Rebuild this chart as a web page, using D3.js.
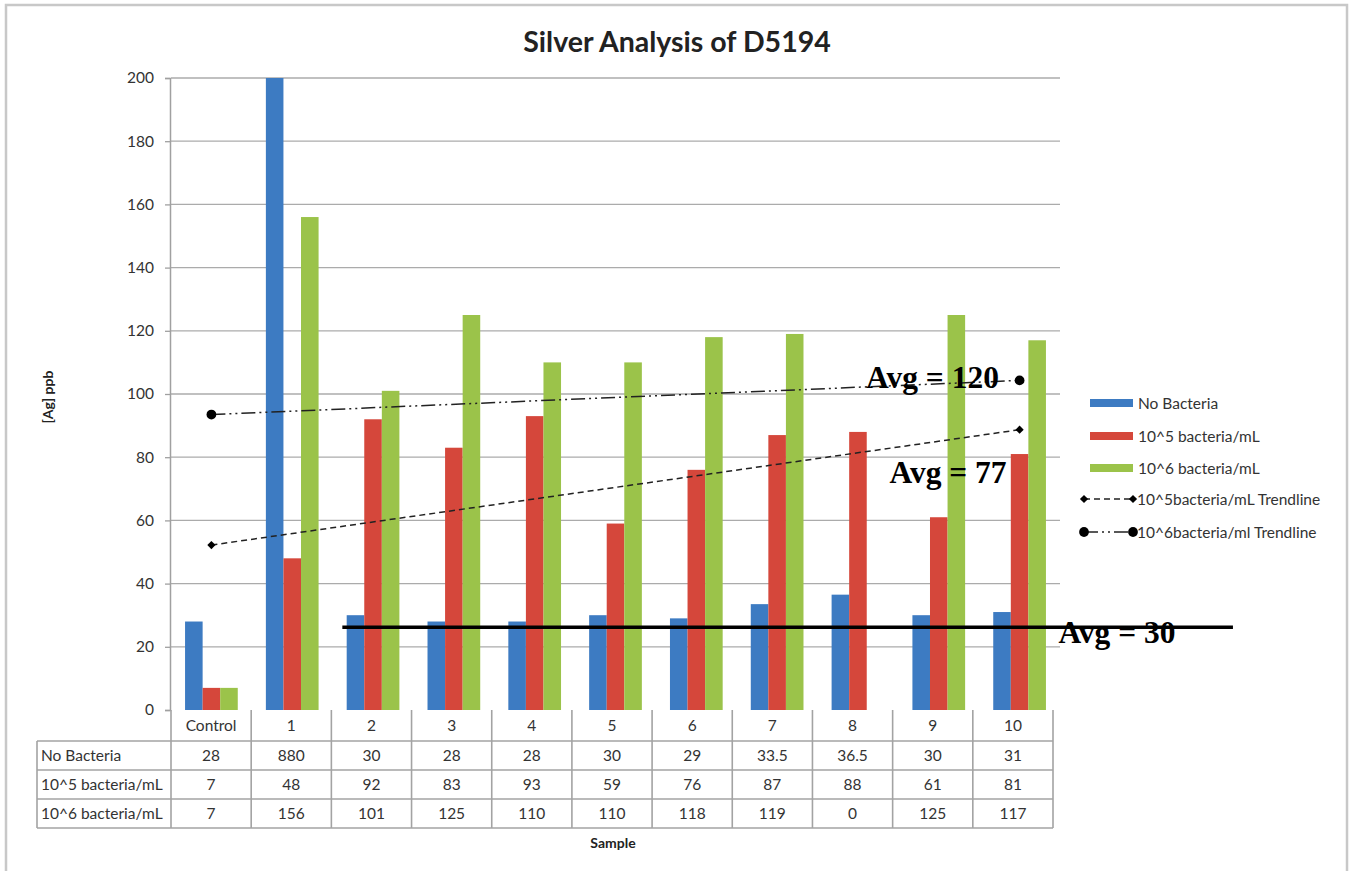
<!DOCTYPE html>
<html><head><meta charset="utf-8">
<script src="https://cdn.jsdelivr.net/npm/d3@7"></script>
<style>body{margin:0;background:#fff} svg{display:block}</style>
</head><body>
<svg id="c" width="1350" height="871"></svg>
<script>
// ---- data ----
const categories = ["Control","1","2","3","4","5","6","7","8","9","10"];
const seriesNames = ["No Bacteria","10^5 bacteria/mL","10^6 bacteria/mL"];
const noBacteria = [28,880,30,28,28,30,29,33.5,36.5,30,31];
const bact5 = [7,48,92,83,93,59,76,87,88,61,81];
const bact6 = [7,156,101,125,110,110,118,119,0,125,117];
const yTicks = [0,20,40,60,80,100,120,140,160,180,200];
const trendNames = ["10^5bacteria/mL Trendline","10^6bacteria/ml Trendline"];
const trend5Ends = [52.2, 88.7];   // at Control and at 10
const trend6Ends = [93.5, 104.3];
const avgLabels = ["Avg = 120","Avg = 77","Avg = 30"];
const avgLineValue = [26.2];

const seriesValues = [noBacteria, bact5, bact6];
const colors = ["#3d7bc2","#d5473b","#9bc34a"];

const svg = d3.select("#c");
const font = "Lato, 'Open Sans', sans-serif";
const fs = 15.5;

// outer frame
svg.append("rect").attr("x",6).attr("y",5).attr("width",1341).attr("height",880)
  .attr("fill","#fff").attr("stroke","#c8c8c8").attr("stroke-width",2.5);

const plotL = 171, plotR = 1060, plotT = 78, plotB = 710;
const x0 = d3.scaleBand().domain(categories).range([plotL, plotR]);
const xi = d3.scaleLinear().domain([0, categories.length]).range([plotL, plotR]);
const x1 = d3.scaleBand().domain(seriesNames).range([0, x0.bandwidth()]).paddingOuter(0.8);
const y = d3.scaleLinear().domain([0,200]).range([plotB, plotT]).clamp(true);

// gridlines
svg.append("g").selectAll("line").data(yTicks.filter(d=>d>0)).join("line")
  .attr("x1",plotL).attr("x2",plotR).attr("y1",d=>y(d)).attr("y2",d=>y(d))
  .attr("stroke","#ababab").attr("stroke-width",1.3);

// y axis
const yAxis = svg.append("g").attr("transform",`translate(${plotL-1},0)`)
  .call(d3.axisLeft(y).tickValues(yTicks).tickSize(5).tickPadding(11));
yAxis.select(".domain").attr("stroke","#a0a0a0").attr("stroke-width",1.5);
yAxis.selectAll(".tick line").attr("stroke","#a0a0a0").attr("stroke-width",1.3);
yAxis.selectAll("text").attr("font-family",font).attr("font-size",fs).attr("fill","#333");

// bars
seriesNames.forEach((s,si)=>{
  svg.append("g").selectAll("rect").data(categories).join("rect")
    .attr("x",c=>x0(c)+x1(s))
    .attr("width",x1.bandwidth())
    .attr("y",(c,i)=>y(seriesValues[si][i]))
    .attr("height",(c,i)=>plotB - y(seriesValues[si][i]))
    .attr("fill",colors[si]);
});

// trendlines
const diamond = d3.symbol(d3.symbolSquare, 34)();
const circle = d3.symbol(d3.symbolCircle, 75)();
const tr = [
  {ends: trend5Ends, dash:"6,4", path:diamond, rot:45},
  {ends: trend6Ends, dash:"14,4,2,4,2,4", path:circle, rot:0}
];
tr.forEach(t=>{
  const xa = xi(0.5), xb = xi(10.5);
  svg.append("line").attr("x1",xa).attr("x2",xb)
    .attr("y1",y(t.ends[0])).attr("y2",y(t.ends[1]))
    .attr("stroke","#222").attr("stroke-width",1.5).attr("stroke-dasharray",t.dash);
  [[xa,t.ends[0]],[xb,t.ends[1]]].forEach(p=>{
    svg.append("path").attr("d",t.path)
      .attr("transform",`translate(${p[0]},${y(p[1])}) rotate(${t.rot})`).attr("fill","#000");
  });
});

// data table
const tL = 37, tR = 1053, hTop = plotB, hBot = 741, rowH = 29;
const xt = d3.scaleBand().domain(categories).range([plotL, tR]);
const tg = svg.append("g");
const lineStyle = sel => sel.attr("stroke","#a3a3a3").attr("stroke-width",1.6);
const rowsY = [hBot, hBot+rowH, hBot+2*rowH, hBot+3*rowH];
tg.selectAll("line.h").data(rowsY).join("line").attr("class","h")
  .attr("x1",tL).attr("x2",tR).attr("y1",d=>d).attr("y2",d=>d).call(lineStyle);
tg.selectAll("line.v").data(categories.concat(["__end"])).join("line").attr("class","v")
  .attr("x1",(c,i)=>i<categories.length?xt(c):tR).attr("x2",(c,i)=>i<categories.length?xt(c):tR)
  .attr("y1",hTop).attr("y2",rowsY[3]).call(lineStyle);
tg.append("line").attr("x1",tL).attr("x2",tL).attr("y1",hBot).attr("y2",rowsY[3]).call(lineStyle);
tg.selectAll("text.hd").data(categories).join("text").attr("class","hd")
  .attr("x",c=>xt(c)+xt.bandwidth()/2).attr("y",(hTop+hBot)/2+5.5)
  .attr("text-anchor","middle").attr("font-family",font).attr("font-size",fs).attr("fill","#333")
  .text(c=>c);
seriesNames.forEach((s,si)=>{
  const ry = rowsY[si] + rowH/2 + 5.5;
  tg.append("text").attr("x",tL+4).attr("y",ry).attr("font-family",font).attr("font-size",fs)
    .attr("fill","#333").text(s);
  tg.selectAll(null).data(categories).join("text")
    .attr("x",c=>xt(c)+xt.bandwidth()/2).attr("y",ry)
    .attr("text-anchor","middle").attr("font-family",font).attr("font-size",fs).attr("fill","#333")
    .text((c,i)=>String(seriesValues[si][i]));
});

// axis titles
svg.append("text").attr("x",613).attr("y",848).attr("text-anchor","middle")
  .attr("font-family",font).attr("font-weight","bold").attr("font-size",14).attr("fill","#222").text("Sample");
svg.append("text").attr("transform","translate(53,397) rotate(-90)").attr("text-anchor","middle")
  .attr("font-family",font).attr("font-weight","bold").attr("font-size",14).attr("fill","#222").text("[Ag] ppb");

// title
svg.append("text").attr("x",677).attr("y",52).attr("text-anchor","middle")
  .attr("font-family",font).attr("font-weight","bold").attr("font-size",28.5).attr("fill","#222")
  .text("Silver Analysis of D5194");

// legend
const lg = svg.append("g");
const legY = [403, 436, 468, 499, 532];
seriesNames.forEach((s,i)=>{
  lg.append("rect").attr("x",1090).attr("y",legY[i]-4).attr("width",43).attr("height",8).attr("fill",colors[i]);
  lg.append("text").attr("x",1138).attr("y",legY[i]+5.5).attr("font-family",font).attr("font-size",fs)
    .attr("fill","#333").text(s);
});
tr.forEach((t,i)=>{
  const yy = legY[3+i];
  lg.append("line").attr("x1",1084).attr("x2",1133).attr("y1",yy).attr("y2",yy)
    .attr("stroke","#222").attr("stroke-width",1.5).attr("stroke-dasharray",t.dash);
  [1084,1133].forEach(xx=>lg.append("path").attr("d",t.path)
    .attr("transform",`translate(${xx},${yy}) rotate(${t.rot})`).attr("fill","#000"));
  lg.append("text").attr("x",1137).attr("y",yy+5.5).attr("font-family",font).attr("font-size",fs)
    .attr("fill","#333").text(trendNames[i]);
});

// average annotations
svg.append("line").attr("x1",xi(2.12)).attr("x2",xi(13.14))
  .attr("y1",y(avgLineValue[0])).attr("y2",y(avgLineValue[0]))
  .attr("stroke","#000").attr("stroke-width",3.5);
const serif = "'Liberation Serif','DejaVu Serif',serif";
const annPos = [[8.6,101.9],[8.89,71.8],[10.98,21.2]];
avgLabels.forEach((t,i)=>{
  svg.append("text").attr("x",xi(annPos[i][0])).attr("y",y(annPos[i][1]))
    .attr("font-family",serif).attr("font-weight","bold").attr("font-size",31.5).attr("fill","#000").text(t);
});
</script>
</body></html>
